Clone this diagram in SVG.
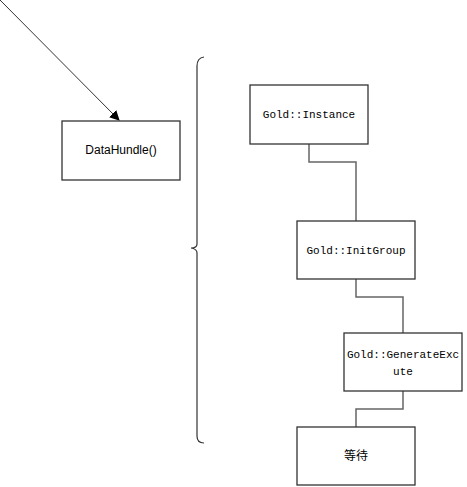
<svg xmlns="http://www.w3.org/2000/svg" width="467" height="487" viewBox="0 0 467 487">
<style>
.box{fill:#fff;stroke:#333;stroke-width:1.3}
.conn{fill:none;stroke:#666;stroke-width:1.5}
.mono{font-family:"Liberation Mono","Noto Sans CJK SC",monospace;font-size:11px;fill:#000}
.sans{font-family:"Liberation Sans","Noto Sans CJK SC",sans-serif;font-size:12px;fill:#000}
</style>
<defs>
<marker id="arr" markerWidth="10" markerHeight="10" refX="9" refY="5" orient="auto" markerUnits="userSpaceOnUse"><path d="M0,0 L10,5 L0,10 z" fill="#000"/></marker>
</defs>
<rect width="467" height="487" fill="#fff"/>
<g id="connectors">
<line x1="0" y1="0" x2="119" y2="120" stroke="#333" stroke-width="1" marker-end="url(#arr)"/>
<path class="conn" d="M309,144 V162 H356 V221"/>
<path class="conn" d="M356,279 V297 H403 V333"/>
<path class="conn" d="M403,391 V409 H356 V427"/>
<path d="M204,57 Q197,58 197,66 V244 Q197,248 191,248 Q197,249 197,253 V436 Q197,443 204,443" fill="none" stroke="#333" stroke-width="1.2"/>
</g>
<g id="datahundle">
<rect class="box" x="62" y="121" width="118" height="59"/>
<text class="sans" x="121" y="154" text-anchor="middle">DataHundle()</text>
</g>
<g id="instance">
<rect class="box" x="250" y="85" width="118" height="59"/>
<text class="mono" x="309" y="118" text-anchor="middle">Gold::Instance</text>
</g>
<g id="initgroup">
<rect class="box" x="297" y="221" width="118" height="58"/>
<text class="mono" x="356" y="254" text-anchor="middle">Gold::InitGroup</text>
</g>
<g id="generate">
<rect class="box" x="344" y="333" width="118" height="58"/>
<text class="mono" x="403" y="358" text-anchor="middle">Gold::GenerateExc</text>
<text class="mono" x="403" y="375" text-anchor="middle">ute</text>
</g>
<g id="wait">
<rect class="box" x="297" y="427" width="118" height="58"/>
<text class="sans" x="356" y="460" text-anchor="middle">等待</text>
</g>
</svg>
